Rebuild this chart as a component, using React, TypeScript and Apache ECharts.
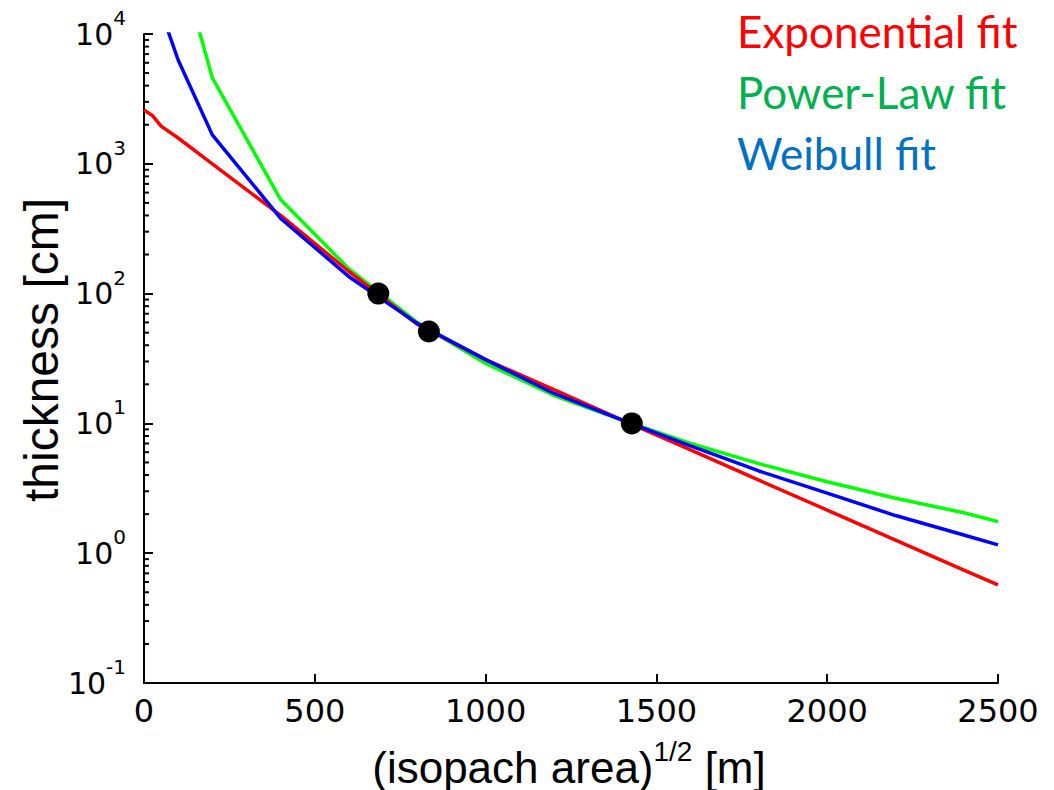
import React, { useEffect, useRef } from "react";
import * as echarts from "echarts";

// Exponential fit
const expX = [0, 25, 50, 100, 200, 400, 600, 800, 1000, 1200, 1400, 1600, 1800, 2000, 2200, 2400, 2500];
const expY = [2600, 2350, 1950, 1580, 1000, 400, 148, 58, 31, 18.2, 10.6, 6.25, 3.65, 2.15, 1.26, 0.74, 0.57];
// Power-law fit
const powX = [100, 200, 400, 600, 800, 1000, 1200, 1400, 1600, 1800, 2000, 2200, 2400, 2500];
const powY = [40000, 4600, 530, 155, 60, 29, 16.4, 10.6, 7.0, 4.9, 3.55, 2.65, 2.05, 1.75];
// Weibull fit
const weiX = [50, 100, 200, 400, 600, 800, 1000, 1200, 1400, 1600, 1800, 2000, 2200, 2400, 2500];
const weiY = [15000, 6300, 1670, 380, 135, 59, 31, 17, 10.6, 6.7, 4.3, 2.9, 1.95, 1.38, 1.16];
// Observations
const obsX = [686, 834, 1428];
const obsY = [100, 51, 10];

const legendNames = ["Exponential fit", "Power-Law fit", "Weibull fit"];
const legendColors = ["#ff0000", "#00b050", "#0070c0"];
const lineColors = ["#ff0000", "#00ff00", "#0000ff"];

// minor tick positions of the log axis: 2..9 x 10^k
const minorTickValues: number[] = [];
for (let k = -1; k <= 3; k++) {
  for (let m = 2; m <= 9; m++) minorTickValues.push(m * Math.pow(10, k));
}

const pairs = (xs: number[], ys: number[]) => xs.map((x, i) => [x, ys[i]]);

export default function App() {
  const ref = useRef<HTMLDivElement>(null);
  useEffect(() => {
    document.body.style.margin = "0";
    if (!ref.current) return;
    const chart = echarts.init(ref.current, null, { renderer: "svg" });
    const lineSeries = (name: string, data: number[][], color: string) => ({
      type: "line",
      name,
      data,
      symbol: "none",
      showSymbol: false,
      lineStyle: { color, width: 3.5 },
      z: 3,
    });
    chart.setOption({
      animation: false,
      grid: { left: 144, top: 34, right: 56, bottom: 107 },
      xAxis: {
        type: "value",
        min: 0,
        max: 2500,
        interval: 500,
        axisLine: { show: true, lineStyle: { color: "#000", width: 2 } },
        axisTick: { show: true, inside: true, length: 9, lineStyle: { color: "#000", width: 2 } },
        splitLine: { show: false },
        axisLabel: {
          color: "#000",
          fontFamily: "DejaVu Sans",
          fontSize: 32,
          margin: 12,
          formatter: (v: number) => String(v),
        },
      },
      yAxis: {
        type: "log",
        logBase: 10,
        min: 0.1,
        max: 10000,
        axisLine: { show: true, lineStyle: { color: "#000", width: 2 } },
        axisTick: { show: true, inside: true, length: 9, lineStyle: { color: "#000", width: 2 } },
        splitLine: { show: false },
        axisLabel: {
          margin: 18,
          formatter: (v: number) => `{b|10}{s|${Math.round(Math.log10(v))}}`,
          rich: {
            b: { fontFamily: "DejaVu Sans", fontSize: 30, color: "#000", lineHeight: 52 },
            s: { fontFamily: "DejaVu Sans", fontSize: 20, color: "#000", lineHeight: 20, verticalAlign: "top" },
          },
        },
      },
      graphic: [
        {
          type: "text",
          x: 569,
          y: 767,
          style: {
            text: "(isopach area){s|1/2} [m]",
            fontFamily: "Liberation Sans",
            fontSize: 44,
            fill: "#000",
            align: "center",
            verticalAlign: "middle",
            rich: {
              s: { fontFamily: "Liberation Sans", fontSize: 28, fill: "#000", lineHeight: 28, verticalAlign: "top" },
            },
            lineHeight: 60,
          },
        },
        {
          type: "text",
          x: 41,
          y: 350,
          rotation: Math.PI / 2,
          style: {
            text: "thickness [cm]",
            fontFamily: "Liberation Sans",
            fontSize: 48,
            fill: "#000",
            align: "center",
            verticalAlign: "middle",
          },
        },
        ...legendNames.map((n, i) => ({
          type: "text",
          x: 737,
          y: 31 + i * 61,
          style: {
            text: n,
            fontFamily: "Lato",
            fontSize: 44,
            fill: legendColors[i],
            align: "left",
            verticalAlign: "middle",
          },
        })),
      ],
      series: [
        {
          type: "custom",
          name: "minor ticks",
          silent: true,
          clip: false,
          data: minorTickValues.map((v) => [0, v]),
          renderItem: (_p: any, api: any) => {
            const pt = api.coord([0, api.value(1)]);
            return {
              type: "line",
              shape: { x1: pt[0], y1: pt[1], x2: pt[0] + 5, y2: pt[1] },
              style: { stroke: "#000", lineWidth: 2 },
            };
          },
          z: 1,
        },
        lineSeries(legendNames[1], pairs(powX, powY), lineColors[1]),
        lineSeries(legendNames[0], pairs(expX, expY), lineColors[0]),
        lineSeries(legendNames[2], pairs(weiX, weiY), lineColors[2]),
        {
          type: "scatter",
          name: "observations",
          data: pairs(obsX, obsY),
          symbol: "circle",
          symbolSize: 22,
          itemStyle: { color: "#000", opacity: 1 },
          z: 5,
        },
      ],
    });
    return () => chart.dispose();
  }, []);
  return <div ref={ref} style={{ width: 1054, height: 790 }} />;
}
